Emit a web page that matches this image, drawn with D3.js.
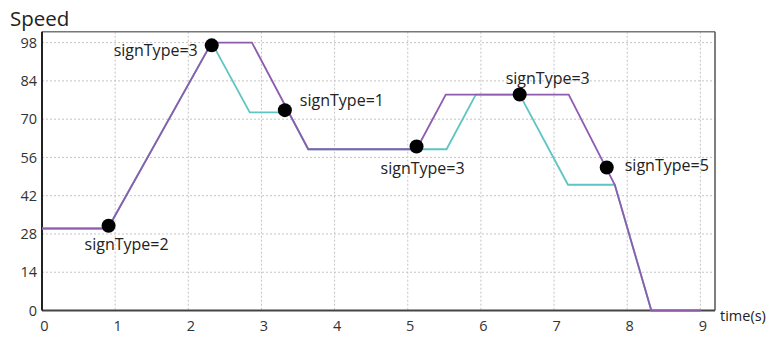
<!DOCTYPE html>
<html><head><meta charset="utf-8">
<script src="https://cdn.jsdelivr.net/npm/d3@7"></script>
<style>
html,body{margin:0;padding:0;background:#fff;}
svg{display:block;font-family:"Open Sans","Noto Sans",sans-serif;}
</style></head>
<body><svg id="chart" width="771" height="338"></svg>
<script>
// ---- data ----
const xTicks = [0,1,2,3,4,5,6,7,8,9];
const yTicks = [0,14,28,42,56,70,84,98];
const purpleTime  = [0, 0.9, 2.32, 2.87, 3.64, 5.12, 5.52, 7.2, 7.83, 8.33, 9];
const purpleSpeed = [30, 30, 98, 98, 59, 59, 79, 79, 46, 0, 0];
const cyanTime  = [0, 0.9, 2.32, 2.84, 3.37, 3.64, 5.53, 5.93, 6.53, 7.19, 7.83, 8.33, 9];
const cyanSpeed = [30, 30, 98, 72.5, 72.5, 59, 59, 79, 79, 46, 46, 0, 0];
const markerTime  = [0.91, 2.32, 3.32, 5.12, 6.53, 7.72];
const markerSpeed = [31, 97, 73.3, 60, 79, 52.3];
const markerLabels = ["signType=2","signType=3","signType=1","signType=3","signType=3","signType=5"];
const yTitle = "Speed";
const xTitle = "time(s)";

// ---- layout ----
const labelOffsets = [[-24,19],[-14,5],[15,-10],[-36,22],[-14,-16],[18,-2]];
const labelAnchors = ["start","end","start","start","start","start"];

const svg = d3.select("#chart");
const L = 42, R = 715, T = 31.7, B = 310.5;
const x = d3.scaleLinear().domain([0, 9.2]).range([L, R]);
const y = d3.scaleLinear().domain([0, 102]).range([B, T]);

// grid
const g = svg.append("g");
g.selectAll(".vg").data(xTicks.filter(d=>d>0)).join("line")
  .attr("x1", d=>x(d)).attr("x2", d=>x(d)).attr("y1", T).attr("y2", B)
  .attr("stroke", "#c4c4c4").attr("stroke-width", 1).attr("stroke-dasharray", "2,2");
g.selectAll(".hg").data(yTicks.filter(d=>d>0)).join("line")
  .attr("x1", L).attr("x2", R).attr("y1", d=>y(d)).attr("y2", d=>y(d))
  .attr("stroke", "#c4c4c4").attr("stroke-width", 1).attr("stroke-dasharray", "2,2");

// frame
svg.append("line").attr("x1", L).attr("x2", R).attr("y1", T).attr("y2", T).attr("stroke", "#777").attr("stroke-width", 1.5);
svg.append("line").attr("x1", R).attr("x2", R).attr("y1", T).attr("y2", B).attr("stroke", "#555").attr("stroke-width", 1.5);

// axes
const xAxis = d3.axisBottom(x).tickValues(xTicks).tickSize(0).tickPadding(10).tickFormat(d3.format("d"));
const yAxis = d3.axisLeft(y).tickValues(yTicks).tickSize(0).tickPadding(5).tickFormat(d3.format("d"));
const gx = svg.append("g").attr("transform", `translate(0,${B})`).call(xAxis);
const gy = svg.append("g").attr("transform", `translate(${L},0)`).call(yAxis);
gx.select(".domain").attr("stroke", "#444").attr("stroke-width", 2).attr("d", `M${L},0H${R}`);
gy.select(".domain").attr("stroke", "#222").attr("stroke-width", 2).attr("d", `M0,${T}V${B}`);
[gx, gy].forEach(a => a.selectAll("text").attr("font-size", 14.5).attr("fill", "#333")
  .attr("font-family", '"Open Sans",sans-serif'));
gx.selectAll("text").attr("dx", 2);

// lines
const line = d3.line().x(d=>x(d[0])).y(d=>y(d[1]));
svg.append("path").datum(cyanTime.map((t,i)=>[t, cyanSpeed[i]]))
  .attr("d", line).attr("fill", "none").attr("stroke", "#5fc4c4").attr("stroke-width", 1.8);
svg.append("path").datum(purpleTime.map((t,i)=>[t, purpleSpeed[i]]))
  .attr("d", line).attr("fill", "none").attr("stroke", "#8e5cae").attr("stroke-width", 1.8);

// markers
svg.selectAll(".mk").data(markerTime).join("circle")
  .attr("cx", d=>x(d)).attr("cy", (d,i)=>y(markerSpeed[i])).attr("r", 7).attr("fill", "#000");
svg.selectAll(".lb").data(markerLabels).join("text")
  .attr("x", (d,i)=>x(markerTime[i]) + labelOffsets[i][0])
  .attr("y", (d,i)=>y(markerSpeed[i]) + labelOffsets[i][1])
  .attr("dy", "0.35em").attr("text-anchor", (d,i)=>labelAnchors[i])
  .attr("font-size", 16).attr("fill", "#222").text(d=>d);

// titles
svg.append("text").attr("x", 10).attr("y", 26).attr("font-size", 20.5).attr("fill", "#222").text(yTitle);
svg.append("text").attr("x", 720).attr("y", 316).attr("dy", "0.35em").attr("font-size", 14.5).attr("fill", "#222").text(xTitle);
</script></body></html>
